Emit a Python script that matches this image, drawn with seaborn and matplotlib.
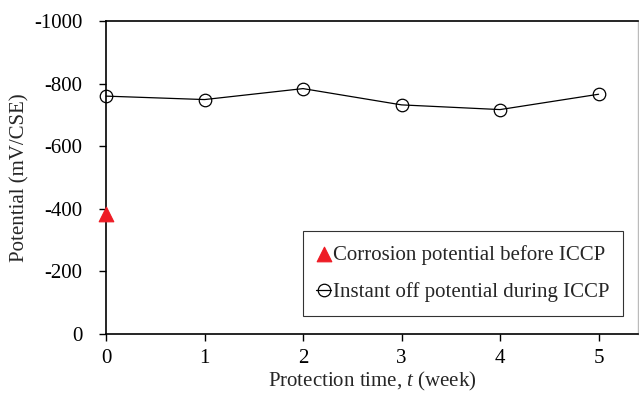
import numpy as np
import matplotlib
matplotlib.use("Agg")
import matplotlib.pyplot as plt
import seaborn as sns
import pandas as pd

# protection time (week) and potentials (mV/CSE)
weeks = [0, 1, 2, 3, 4, 5]
instant_off = [-760, -749, -784, -732, -717, -766]
corrosion_week = [0]
corrosion_pot = [-383]

sns.set_style("ticks")
plt.rcParams['font.family'] = ['Liberation Serif', 'DejaVu Serif']
plt.rcParams['axes.unicode_minus'] = False
plt.rcParams['mathtext.fontset'] = 'custom'
plt.rcParams['mathtext.it'] = 'Liberation Serif:italic'
plt.rcParams['mathtext.rm'] = 'Liberation Serif'

df = pd.DataFrame({'week': weeks, 'pot': instant_off})

fig = plt.figure(figsize=(6.39, 3.96), dpi=100)
ax = fig.add_axes([106 / 639, 1 - 334 / 396, (638 - 106) / 639, (334 - 21) / 396])

sns.scatterplot(x=corrosion_week, y=corrosion_pot, marker='^', s=110, color='#ee1c25',
                edgecolor='#ee1c25', ax=ax, label='Corrosion potential before ICCP', zorder=5,
                clip_on=False)
sns.lineplot(data=df, x='week', y='pot', color='black', lw=0.9, marker='o', markersize=9,
             markerfacecolor='none', markeredgecolor='black', markeredgewidth=0.9,
             ax=ax, label='Instant off potential during ICCP', clip_on=False)

ax.set_xlim(0, 5.4)
ax.set_ylim(0, -1000)
ax.set_xticks(weeks)
ax.set_yticks([0, -200, -400, -600, -800, -1000])
ax.tick_params(direction='out', length=5, width=1, labelsize=15, colors='black')
for side in ['left', 'bottom', 'top']:
    ax.spines[side].set_color('black')
    ax.spines[side].set_linewidth(1.2)
ax.spines['right'].set_color('#bbbbbb')
ax.spines['right'].set_linewidth(1)
ax.tick_params(axis='x', pad=6)
ax.tick_params(axis='y', pad=12)

ax.set_xlabel('Protection time, $\\it{t}$ (week)', fontsize=15, labelpad=1)
ax.set_ylabel('Potential (mV/CSE)', fontsize=15, labelpad=3)

leg = ax.legend(loc='lower right', bbox_to_anchor=(0.972, 0.058), fontsize=15,
                frameon=True, fancybox=False, handlelength=0.7, handletextpad=0.1,
                labelspacing=0.85, borderpad=0.65, borderaxespad=0)
leg.get_frame().set_edgecolor('black')
leg.get_frame().set_linewidth(0.8)

fig.savefig('out.png', dpi=100)
